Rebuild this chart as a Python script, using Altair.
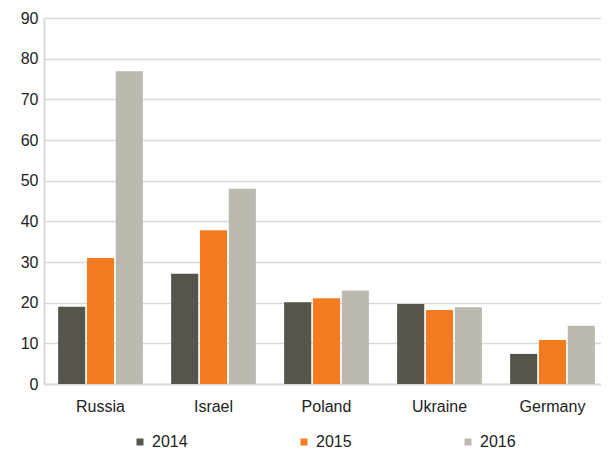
import altair as alt
import pandas as pd

countries = ["Russia", "Israel", "Poland", "Ukraine", "Germany"]
years = ["2014", "2015", "2016"]
v2014 = [19.0, 27.1, 20.1, 19.7, 7.4]
v2015 = [31.0, 37.8, 21.1, 18.2, 10.8]
v2016 = [76.9, 48.0, 23.0, 18.9, 14.3]
colors = ["#55554B", "#F47B20", "#BCB9B0"]

rows = []
for y, vals in zip(years, [v2014, v2015, v2016]):
    for c, v in zip(countries, vals):
        rows.append({"country": c, "year": y, "value": v})
df = pd.DataFrame(rows)

chart = alt.Chart(df).mark_bar().encode(
    x=alt.X("country:N", sort=countries, title=None,
            scale=alt.Scale(paddingInner=0.25, paddingOuter=0.125),
            axis=alt.Axis(labelAngle=0, labelFontSize=16, labelColor="#222222",
                          labelFont="Liberation Sans", ticks=False,
                          domainColor="#D9D9D9", domainWidth=2, labelPadding=14)),
    xOffset=alt.XOffset("year:N", sort=years, scale=alt.Scale(paddingInner=0.06)),
    y=alt.Y("value:Q", title=None,
            scale=alt.Scale(domain=[0, 90], nice=False),
            axis=alt.Axis(values=list(range(0, 91, 10)), labelFontSize=16,
                          labelColor="#222222", labelFont="Liberation Sans",
                          ticks=False, gridColor="#D9D9D9", gridWidth=1.5,
                          domainColor="#D9D9D9", domainWidth=2, labelPadding=6)),
    color=alt.Color("year:N", sort=years,
                    scale=alt.Scale(domain=years, range=colors),
                    legend=alt.Legend(title=None, orient="none", direction="horizontal",
                                      legendX=88, legendY=416, padding=0,
                                      symbolType="square", symbolSize=49,
                                      symbolStrokeWidth=0,
                                      labelFontSize=16, labelFont="Liberation Sans",
                                      labelColor="#222222", columnPadding=108,
                                      labelOffset=4)),
).properties(
    width=565, height=366,
    padding={"left": 36, "top": 10, "right": -8, "bottom": 67},
    autosize=alt.AutoSizeParams(type="none"),
).configure_view(stroke=None)

chart.save("out.html", embed_options={"renderer": "svg", "actions": False})
